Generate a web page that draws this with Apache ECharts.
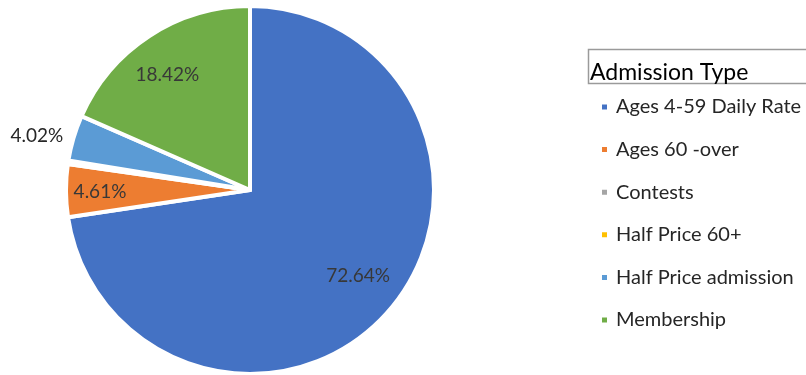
<!DOCTYPE html>
<html>
<head>
<meta charset="utf-8">
<script src="https://cdn.jsdelivr.net/npm/echarts@6/dist/echarts.min.js"></script>
<style>
html,body{margin:0;padding:0;background:#fff;}
#chart{width:806px;height:375px;}
</style>
</head>
<body>
<div id="chart"></div>
<script>
// ---- data ----
const categories = ['Ages 4-59 Daily Rate', 'Ages 60 -over', 'Contests', 'Half Price 60+', 'Half Price admission', 'Membership'];
const values = [72.64, 4.61, 0.16, 0.15, 4.02, 18.42];
const labelTexts = ['72.64%', '4.61%', '', '', '4.02%', '18.42%'];
const legendTitle = 'Admission Type';

// ---- style ----
const colors = ['#4472C4', '#ED7D31', '#A5A5A5', '#FFC000', '#5B9BD5', '#70AD47'];
const CX = 250, CY = 190, R = 184;
const labelRadius = [136, 150, 0, 0, 219, 140];
const labelShift = [[5, -3], [0, 1], [0, 0], [0, 0], [-3, 8], [-6, 2]];
const labelColors = ['#383838', '#383838', '#383838', '#383838', '#262626', '#383838'];
const fontFam = 'Lato, "Open Sans", sans-serif';

const chart = echarts.init(document.getElementById('chart'), null, {renderer: 'canvas'});

const data = categories.map((name, i) => ({
  name: name,
  value: values[i],
  label: {
    show: labelTexts[i] !== '',
    formatter: labelTexts[i],
    color: labelColors[i]
  }
}));

chart.setOption({
  animation: false,
  color: colors,
  title: {
    text: legendTitle,
    left: 590,
    top: 61,
    padding: 0,
    textStyle: {fontFamily: fontFam, fontSize: 23, fontWeight: 'normal', color: '#000'}
  },
  graphic: [{
    type: 'rect',
    shape: {x: 588.5, y: 49.5, width: 240, height: 34},
    style: {fill: 'none', stroke: '#9a9a9a', lineWidth: 1.5},
    silent: true
  }],
  legend: {
    orient: 'vertical',
    left: 595,
    top: 91,
    itemWidth: 7,
    itemHeight: 7,
    itemGap: 20.6,
    icon: 'rect',
    data: categories,
    textStyle: {fontFamily: fontFam, fontSize: 20, color: '#262626', lineHeight: 22, padding: [0, 0, 0, 3]}
  },
  series: [{
    type: 'pie',
    center: [CX, CY],
    radius: [0, R],
    startAngle: 90,
    clockwise: true,
    avoidLabelOverlap: false,
    itemStyle: {borderColor: '#fff', borderWidth: 4},
    label: {
      position: 'inside',
      fontFamily: fontFam,
      fontSize: 19,
      color: '#383838'
    },
    labelLine: {show: false},
    labelLayout: function (p) {
      const lr = p.labelRect;
      const lx = lr.x + lr.width / 2, ly = lr.y + lr.height / 2;
      const dx = lx - CX, dy = ly - CY;
      const d = Math.sqrt(dx * dx + dy * dy) || 1;
      const rr = labelRadius[p.dataIndex];
      const s = labelShift[p.dataIndex];
      return {x: CX + dx / d * rr + s[0], y: CY + dy / d * rr + s[1], align: 'center', verticalAlign: 'middle'};
    },
    data: data
  }]
});
</script>
</body>
</html>
